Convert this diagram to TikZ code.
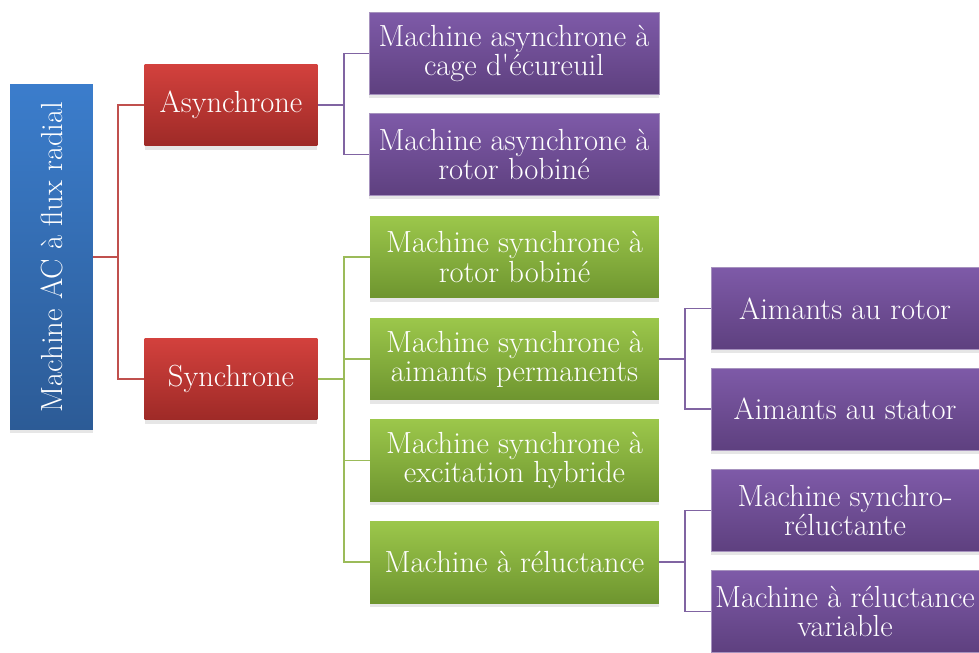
\documentclass[tikz,border=0pt]{standalone}
\usetikzlibrary{shadows}
\definecolor{bluetop}{HTML}{3B7DCC}
\definecolor{bluebot}{HTML}{2C5B96}
\definecolor{redtop}{HTML}{D3413D}
\definecolor{redbot}{HTML}{9E2A27}
\definecolor{purptop}{HTML}{7E5AA8}
\definecolor{purpbot}{HTML}{5E407F}
\definecolor{greentop}{HTML}{9CC74B}
\definecolor{greenbot}{HTML}{6E952F}
\definecolor{redline}{HTML}{C0504D}
\definecolor{purpline}{HTML}{8064A2}
\definecolor{greenline}{HTML}{9BBB59}
\tikzset{
  box/.style={text=white, align=center, inner sep=0pt,
    font=\fontsize{17.4}{16.6}\selectfont,
    drop shadow={shadow xshift=0pt, shadow yshift=-2pt, opacity=.2}},
  rootbox/.style={box, top color=bluetop, bottom color=bluebot,
    minimum width=1.66cm, minimum height=6.92cm},
  redbox/.style={box, top color=redtop, bottom color=redbot,
    minimum width=3.46cm, minimum height=1.64cm},
  purpbox/.style={box, top color=purptop, bottom color=purpbot,
    draw=purpline!70!white, line width=.4pt, minimum height=1.64cm},
  greenbox/.style={box, top color=greentop, bottom color=greenbot,
    minimum width=5.78cm, minimum height=1.64cm},
  link/.style={line width=.9pt}
}
\begin{document}
\begin{tikzpicture}[x=0.02cm, y=-0.02cm]
      \useasboundingbox (0,0) rectangle (979,652);

      % first and second level
      \node[rootbox]  (root)  at (51.5,257) {};
      \node[text=white, rotate=90, font=\fontsize{17.4}{16.6}\selectfont]
        (roottext) at (root.center) {Machine AC à flux radial};
      \node[redbox]   (async) at (231,105)  {Asynchrone};
      \node[redbox]   (sync)  at (231,379)  {Synchrone};

      % asynchronous machines
      \node[purpbox, minimum width=5.8cm] (cage)  at (514,53.5)
        {Machine asynchrone à\\cage d{\textquotesingle}écureuil};
      \node[purpbox, minimum width=5.8cm] (arb)   at (514,154.5)
        {Machine asynchrone à\\rotor bobiné};

      % synchronous machines
      \node[greenbox] (srb)   at (514.5,257) {Machine synchrone à\\rotor bobiné};
      \node[greenbox] (sap)   at (514.5,359) {Machine synchrone à\\aimants permanents};
      \node[greenbox] (sexc)  at (514.5,460.5) {Machine synchrone à\\excitation hybride};
      \node[greenbox] (srel)  at (514.5,562) {Machine à réluctance};

      % third level
      \node[purpbox, minimum width=5.36cm] (arot)  at (845,308.5) {Aimants au rotor};
      \node[purpbox, minimum width=5.36cm] (astat) at (845,409)   {Aimants au stator};
      \node[purpbox, minimum width=5.36cm] (msr)   at (845,510.5) {Machine synchro-\\réluctante};
      \node[purpbox, minimum width=5.36cm] (mrv)   at (845,611.5) {Machine à réluctance\\variable};

      % junctions
      \coordinate (j0) at (118,257);
      \coordinate (j1) at (344,105);
      \coordinate (j2) at (344,379);
      \coordinate (j3) at (685,359);
      \coordinate (j4) at (685,562);

      \draw[link, redline]   (root.east) -- (j0) |- (async.west);
      \draw[link, redline]   (j0) |- (sync.west);
      \draw[link, purpline]  (async.east) -- (j1) |- (cage.west);
      \draw[link, purpline]  (j1) |- (arb.west);
      \draw[link, greenline] (sync.east) -- (j2) |- (srb.west);
      \draw[link, greenline] (j2) |- (sap.west);
      \draw[link, greenline] (j2) |- (sexc.west);
      \draw[link, greenline] (j2) |- (srel.west);
      \draw[link, purpline]  (sap.east) -- (j3) |- (arot.west);
      \draw[link, purpline]  (j3) |- (astat.west);
      \draw[link, purpline]  (srel.east) -- (j4) |- (msr.west);
      \draw[link, purpline]  (j4) |- (mrv.west);
    \end{tikzpicture}
\end{document}
